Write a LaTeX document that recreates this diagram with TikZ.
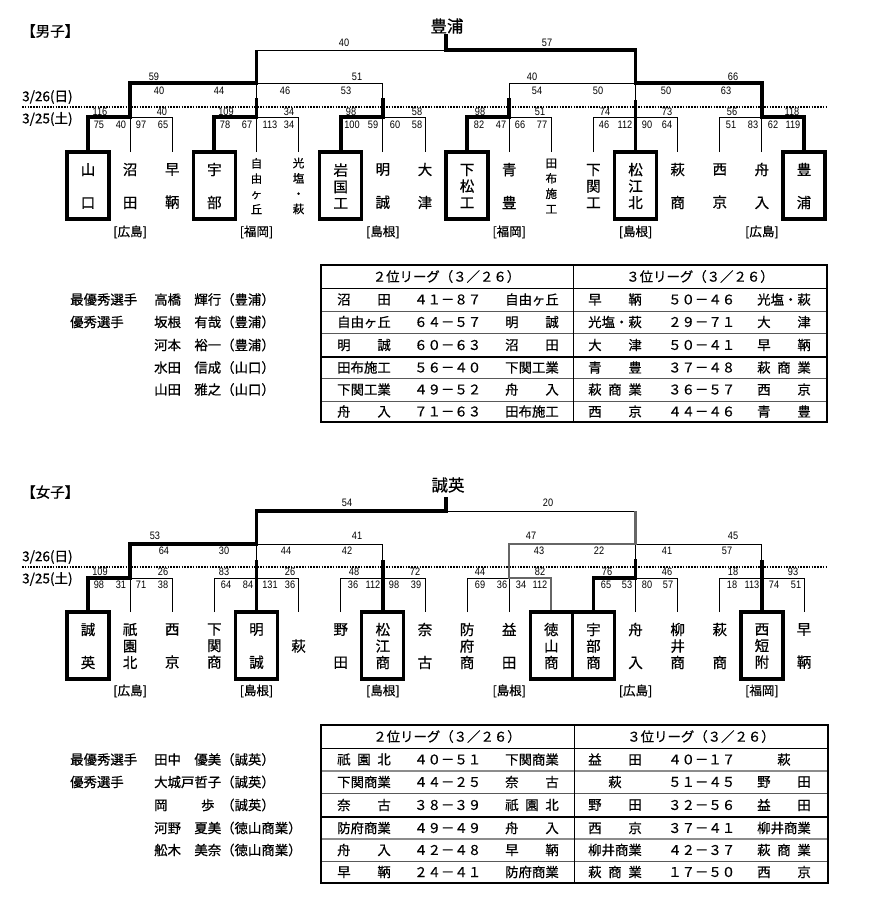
\documentclass[tikz,border=0pt]{standalone}
\usepackage{fontspec}
\setmainfont{Noto Sans CJK JP}
\newfontfamily\jpf[FakeBold=0.6]{Noto Sans CJK JP}
\newfontfamily\numf[FakeStretch=0.85]{Liberation Sans}
\newcommand\colx[1]{(88+42.12*(#1))}
\tikzset{
 thinl/.style={line width=0.9pt},
 thickl/.style={line width=3.8pt},
 grayl/.style={line width=2.2pt, draw=black!60},
 boxl/.style={line width=3.3pt},
 sc/.style={font=\numf\fontsize{10.8}{10.8}\selectfont, inner sep=0pt},
 tm/.style={font=\jpf\fontsize{14.5}{16.5}\selectfont, align=center, inner sep=0pt},
 tms/.style={font=\jpf\fontsize{11.5}{15.3}\selectfont, align=center, inner sep=0pt},
 rl/.style={font=\jpf\fontsize{12.5}{13}\selectfont, inner sep=0pt},
 tf/.style={font=\jpf\fontsize{13.4}{14}\selectfont, inner sep=0pt},
 dl/.style={line width=1.4pt, dash pattern=on 1.5pt off 1.3pt},
 ttl/.style={font=\jpf\fontsize{14.5}{15}\selectfont, inner sep=0pt, anchor=west},
 champ/.style={font=\jpf\fontsize{16.5}{17}\selectfont, inner sep=0pt},
 dt/.style={font=\jpf\fontsize{13.5}{14}\selectfont, inner sep=0pt, anchor=west},
 rowl/.style={line width=0.8pt, draw=black!65},
 rowg/.style={line width=1.8pt, draw=black!45},
 rowm/.style={line width=1.4pt},
}
\newcommand\ttwo[3]{\node[tm] at ({\colx{#1}},#2) {#3};}
\newcommand\tbox[2]{\draw[boxl] ({\colx{#1}-21},#2) rectangle ({\colx{#1}+21},{#2+67});}
\newcommand\bracketthin[4]{%
 \foreach \g in {0,...,5}{
  \draw[thinl] ({\colx{3*\g}},#4) -- ({\colx{3*\g}},#3) -- ({\colx{3*\g+2}},#3) -- ({\colx{3*\g+2}},#4);
  \draw[thinl] ({\colx{3*\g+1}},#4) -- ({\colx{3*\g+1}},#2);
 }
 \draw[thinl] ({\colx{1}},#2) -- ({\colx{7}},#2);
 \draw[thinl] ({\colx{10}},#2) -- ({\colx{16}},#2);
 \draw[thinl] ({\colx{4}},#2) -- ({\colx{4}},#1) -- ({\colx{13}},#1) -- ({\colx{13}},#2);
}
\newcommand\trow[7]{%
 \node[tf,anchor=west] at (337,#1) {#2};
 \node[tf,anchor=west] at (414,#1) {#3};
 \node[tf,anchor=west] at (505,#1) {#4};
 \node[tf,anchor=west] at (588,#1) {#5};
 \node[tf,anchor=west] at (668,#1) {#6};
 \node[tf,anchor=west] at (757,#1) {#7};}
\newcommand\spn[3]{#1\hspace{.5em}#2\hspace{.5em}#3}
\begin{document}
\begin{tikzpicture}[x=1pt,y=-1pt]
\fill[white] (0,0) rectangle (870,914);
\useasboundingbox (0,0) rectangle (870,914);

%================ MEN =================
\node[ttl] (mtitle) at (21,31) {【男子】};
\node[champ] (mchamp) at (447,26) {豊浦};
\node[dt] (md1) at (22,97) {3/26(日)};
\node[dt] (md2) at (22,119) {3/25(土)};
\draw[dl] (22,107) -- (827,107);

\bracketthin{50}{83}{117}{152}
% winner paths
\draw[thickl] ({\colx{0}},152) -- ({\colx{0}},117) -- ({\colx{1}},117) -- ({\colx{1}},83) -- ({\colx{4}},83) -- ({\colx{4}},50);
\draw[thickl] ({\colx{3}},152) -- ({\colx{3}},117) -- ({\colx{4}},117) -- ({\colx{4}},98);
\draw[thickl] ({\colx{6}},152) -- ({\colx{6}},117) -- ({\colx{7}},117) -- ({\colx{7}},98);
\draw[thickl] ({\colx{9}},152) -- ({\colx{9}},117) -- ({\colx{10}},117) -- ({\colx{10}},98);
\draw[thickl] ({\colx{13}},152) -- ({\colx{13}},100);
\draw[thickl] ({\colx{8.5}},34) -- ({\colx{8.5}},50) -- ({\colx{13}},50) -- ({\colx{13}},83) -- ({\colx{16}},83) -- ({\colx{16}},117) -- ({\colx{17}},117) -- ({\colx{17}},152);
\foreach \k in {0,3,6,9,13,17} {\tbox{\k}{152}}

% team names
\ttwo{0}{186}{山\\[16.5pt]口}
\ttwo{1}{186}{沼\\[16.5pt]田}
\ttwo{2}{186}{早\\[16.5pt]鞆}
\ttwo{3}{186}{宇\\[16.5pt]部}
\node[tms] at ({\colx{4}},186) {自\\由\\ヶ\\丘};
\node[tms] at ({\colx{5}},186) {光\\塩\\・\\萩};
\ttwo{6}{186}{岩\\国\\工}
\ttwo{7}{186}{明\\[16.5pt]誠}
\ttwo{8}{186}{大\\[16.5pt]津}
\ttwo{9}{186}{下\\松\\工}
\ttwo{10}{186}{青\\[16.5pt]豊}
\node[tms] at ({\colx{11}},186) {田\\布\\施\\工};
\ttwo{12}{186}{下\\関\\工}
\ttwo{13}{186}{松\\江\\北}
\ttwo{14}{186}{萩\\[16.5pt]商}
\ttwo{15}{186}{西\\[16.5pt]京}
\ttwo{16}{186}{舟\\[16.5pt]入}
\ttwo{17}{186}{豊\\[16.5pt]浦}
\foreach \k/\r in {1/広島,4/福岡,7/島根,10/福岡,13/島根,16/広島}
  {\node[rl] at ({\colx{\k}},232) {[\r]};}

% scores
\foreach \p/\t in {344/40,547/57} {\node[sc] at (\p,43) {\t};}
\foreach \p/\t in {154/59,357/51,532/40,733/66} {\node[sc] at (\p,77) {\t};}
\foreach \p/\t in {159/40,219/44,285/46,346/53,537/54,598/50,666/50,726/63} {\node[sc] at (\p,91) {\t};}
\foreach \p/\t in {100/116,162/40,226/109,289/34,351/98,417/58,480/98,540/51,605/74,667/73,732/56,792/118} {\node[sc] at (\p,112) {\t};}
\foreach \p/\t in {99/75,121/40,141/97,163/65,225/78,247/67,270/113,289/34,352/100,373/59,395/60,417/58,479/82,501/47,520/66,542/77,604/46,625/112,647/90,667/64,731/51,753/83,773/62,793/119} {\node[sc] at (\p,125) {\t};}

% players
\node[tf,anchor=west] at (70,299.5) {最優秀選手};
\node[tf,anchor=west] at (70,322) {優秀選手};
\node[tf,anchor=west] at (154,299.5) {高橋　輝行（豊浦）};
\node[tf,anchor=west] at (154,322) {坂根　有哉（豊浦）};
\node[tf,anchor=west] at (154,345) {河本　裕一（豊浦）};
\node[tf,anchor=west] at (154,367.5) {水田　信成（山口）};
\node[tf,anchor=west] at (154,389.5) {山田　雅之（山口）};

% table
\foreach \yy in {311,333,378,401} {\draw[rowl] (321,\yy) -- (827,\yy);}
\draw[rowm] (321,357) -- (827,357);
\draw[thinl] (321,288) -- (827,288);
\draw[line width=1pt] (573,265) -- (573,422);
\draw[line width=1.3pt] (321,265) rectangle (827,422);
\node[tf] at (446.5,276.5) {２位リーグ（３／２６）};
\node[tf] at (700,276.5) {３位リーグ（３／２６）};
\trow{299.5}{沼　　田}{４１－８７}{自由ヶ丘}{早　　鞆}{５０－４６}{光塩・萩}
\trow{322}{自由ヶ丘}{６４－５７}{明　　誠}{光塩・萩}{２９－７１}{大　　津}
\trow{345}{明　　誠}{６０－６３}{沼　　田}{大　　津}{５０－４１}{早　　鞆}
\trow{367.5}{田布施工}{５６－４０}{下関工業}{青　　豊}{３７－４８}{\spn{萩}{商}{業}}
\trow{389.5}{下関工業}{４９－５２}{舟　　入}{\spn{萩}{商}{業}}{３６－５７}{西　　京}
\trow{411.5}{舟　　入}{７１－６３}{田布施工}{西　　京}{４４－４６}{青　　豊}

%================ WOMEN =================
\node[ttl] (wtitle) at (21,492) {【女子】};
\node[champ] (wchamp) at (448,485) {誠英};
\node[dt] (wd1) at (22,557) {3/26(日)};
\node[dt] (wd2) at (22,579) {3/25(土)};
\draw[dl] (22,567) -- (827,567);

\bracketthin{511}{544}{578}{612}
\draw[thickl] ({\colx{0}},612) -- ({\colx{0}},578) -- ({\colx{1}},578) -- ({\colx{1}},544) -- ({\colx{4}},544) -- ({\colx{4}},511) -- ({\colx{8.5}},511) -- ({\colx{8.5}},497);
\draw[thickl] ({\colx{4}},612) -- ({\colx{4}},560);
\draw[thickl] ({\colx{7}},612) -- ({\colx{7}},560);
\draw[thickl] ({\colx{12}},612) -- ({\colx{12}},578) -- ({\colx{13}},578) -- ({\colx{13}},559);
\draw[thickl] ({\colx{16}},612) -- ({\colx{16}},560);
\draw[grayl] ({\colx{11}},612) -- ({\colx{11}},578) -- ({\colx{10}},578) -- ({\colx{10}},544) -- ({\colx{13}},544) -- ({\colx{13}},511);
\foreach \k in {0,4,7,11,12,16} {\tbox{\k}{612}}

\ttwo{0}{646}{誠\\[16.5pt]英}
\ttwo{1}{646}{祇\\園\\北}
\ttwo{2}{646}{西\\[16.5pt]京}
\ttwo{3}{646}{下\\関\\商}
\ttwo{4}{646}{明\\[16.5pt]誠}
\ttwo{5}{646}{萩}
\ttwo{6}{646}{野\\[16.5pt]田}
\ttwo{7}{646}{松\\江\\商}
\ttwo{8}{646}{奈\\[16.5pt]古}
\ttwo{9}{646}{防\\府\\商}
\ttwo{10}{646}{益\\[16.5pt]田}
\ttwo{11}{646}{徳\\山\\商}
\ttwo{12}{646}{宇\\部\\商}
\ttwo{13}{646}{舟\\[16.5pt]入}
\ttwo{14}{646}{柳\\井\\商}
\ttwo{15}{646}{萩\\[16.5pt]商}
\ttwo{16}{646}{西\\短\\附}
\ttwo{17}{646}{早\\[16.5pt]鞆}
\foreach \k/\r in {1/広島,4/島根,7/島根,10/島根,13/広島,16/福岡}
  {\node[rl] at ({\colx{\k}},691) {[\r]};}

\foreach \p/\t in {347/54,548/20} {\node[sc] at (\p,503) {\t};}
\foreach \p/\t in {155/53,357/41,531/47,733/45} {\node[sc] at (\p,536) {\t};}
\foreach \p/\t in {164/64,224/30,286/44,347/42,539/43,599/22,667/41,727/57} {\node[sc] at (\p,551) {\t};}
\foreach \p/\t in {100/109,163/26,224/83,290/26,354/48,415/72,480/44,540/82,607/76,667/46,733/18,793/93} {\node[sc] at (\p,572) {\t};}
\foreach \p/\t in {99/98,121/31,141/71,163/38,226/64,248/84,270/131,290/36,353/36,373/112,394/98,416/39,480/69,502/36,521/34,540/112,606/65,627/53,647/80,668/57,732/18,752/113,774/74,796/51} {\node[sc] at (\p,585) {\t};}

\node[tf,anchor=west] at (70,759.5) {最優秀選手};
\node[tf,anchor=west] at (70,782) {優秀選手};
\node[tf,anchor=west] at (154,759.5) {田中　優美（誠英）};
\node[tf,anchor=west] at (154,782) {大城戸哲子（誠英）};
\node[tf,anchor=west] at (154,805) {岡\hspace{2.5em}歩\hspace{.5em}（誠英）};
\node[tf,anchor=west] at (154,828) {河野　夏美（徳山商業）};
\node[tf,anchor=west] at (154,850) {舩木　美奈（徳山商業）};

\foreach \yy in {793,861} {\draw[rowl] (321,\yy) -- (828,\yy);}
\foreach \yy in {771,839} {\draw[rowg] (321,\yy) -- (828,\yy);}
\draw[rowm] (321,817) -- (828,817);
\draw[thinl] (321,748) -- (828,748);
\draw[line width=1pt] (574,725) -- (574,883);
\draw[line width=1.3pt] (321,725) rectangle (828,883);
\node[tf] at (447,736.5) {２位リーグ（３／２６）};
\node[tf] at (701,736.5) {３位リーグ（３／２６）};
\trow{759.5}{\spn{祇}{園}{北}}{４０－５１}{下関商業}{益　　田}{４０－１７}{\makebox[4em]{萩}}
\trow{782}{下関商業}{４４－２５}{奈　　古}{\makebox[4em]{萩}}{５１－４５}{野　　田}
\trow{805}{奈　　古}{３８－３９}{\spn{祇}{園}{北}}{野　　田}{３２－５６}{益　　田}
\trow{828}{防府商業}{４９－４９}{舟　　入}{西　　京}{３７－４１}{柳井商業}
\trow{850}{舟　　入}{４２－４８}{早　　鞆}{柳井商業}{４２－３７}{\spn{萩}{商}{業}}
\trow{872}{早　　鞆}{２４－４１}{防府商業}{\spn{萩}{商}{業}}{１７－５０}{西　　京}
\end{tikzpicture}
\end{document}
